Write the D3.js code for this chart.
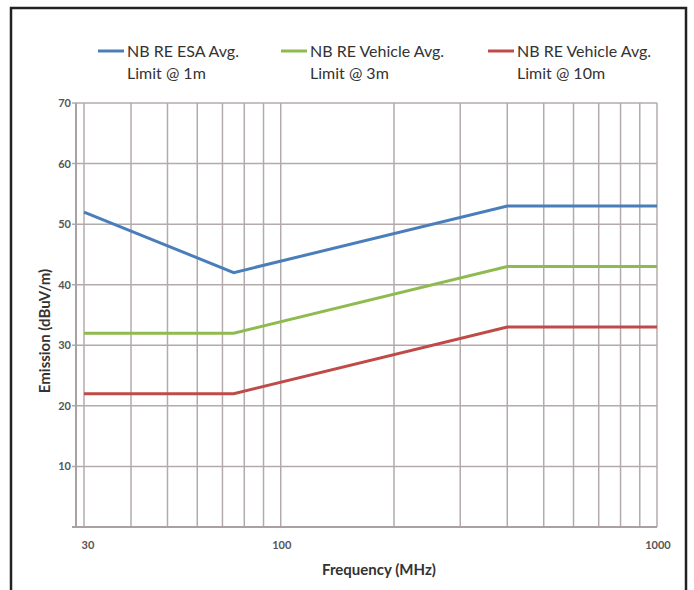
<!DOCTYPE html>
<html>
<head>
<meta charset="utf-8">
<script src="https://cdn.jsdelivr.net/npm/d3@7"></script>
<style>
  body { margin: 0; background: #fff; }
  text { font-family: Lato, "Open Sans", sans-serif; }
</style>
</head>
<body>
<div id="chart"></div>
<script>
// frequency breakpoints (MHz)
var freqs = [30, 75, 400, 1000];
var esaLimit1m = [52, 42, 53, 53];
var vehLimit3m = [32, 32, 43, 43];
var vehLimit10m = [22, 22, 33, 33];

var seriesNames = [["NB RE ESA Avg.", "Limit @ 1m"],
                   ["NB RE Vehicle Avg.", "Limit @ 3m"],
                   ["NB RE Vehicle Avg.", "Limit @ 10m"]];
var seriesColors = ["#4a7ebb", "#8fba4f", "#be4b48"];

var yTicks = [10, 20, 30, 40, 50, 60, 70];
var xLabels = [30, 100, 1000];
var xGrid = [30, 40, 50, 60, 70, 80, 90, 100, 200, 300, 400, 500, 600, 700, 800, 900, 1000];

var width = 694, height = 590;
var plotLeft = 76, plotRight = 657, plotTop = 103, plotBottom = 527;

var svg = d3.select('#chart')
            .append('svg')
            .attr('width', width)
            .attr('height', height);

var xScale = d3.scaleLog()
               .domain([30, 1000])
               .range([84, plotRight]);

var yScale = d3.scaleLinear()
               .domain([0, 70])
               .range([plotBottom, plotTop]);

var gridColor = '#b3abab';

// horizontal grid + y ticks
svg.append('g')
   .selectAll('line')
   .data(yTicks)
   .enter().append('line')
   .attr('x1', plotLeft - 4)
   .attr('x2', plotRight)
   .attr('y1', function(d){ return yScale(d); })
   .attr('y2', function(d){ return yScale(d); })
   .attr('stroke', gridColor)
   .attr('stroke-width', 1.5);

// vertical grid
svg.append('g')
   .selectAll('line')
   .data(xGrid)
   .enter().append('line')
   .attr('x1', function(d){ return xScale(d); })
   .attr('x2', function(d){ return xScale(d); })
   .attr('y1', plotTop)
   .attr('y2', plotBottom)
   .attr('stroke', gridColor)
   .attr('stroke-width', 1.5);

// axis lines
svg.append('line')
   .attr('x1', plotLeft).attr('x2', plotLeft)
   .attr('y1', plotTop).attr('y2', plotBottom)
   .attr('stroke', '#a9a1a1').attr('stroke-width', 2);
svg.append('line')
   .attr('x1', plotLeft - 4).attr('x2', plotRight)
   .attr('y1', plotBottom).attr('y2', plotBottom)
   .attr('stroke', '#a9a1a1').attr('stroke-width', 2);

// y tick labels
svg.append('g')
   .selectAll('text')
   .data(yTicks)
   .enter().append('text')
   .attr('x', plotLeft - 5)
   .attr('y', function(d){ return yScale(d) + 4; })
   .attr('text-anchor', 'end')
   .attr('font-size', 11)
   .attr('font-weight', 'bold')
   .attr('fill', '#555')
   .text(function(d){ return d; });

// x tick labels
svg.append('g')
   .selectAll('text')
   .data(xLabels)
   .enter().append('text')
   .attr('x', function(d){ return xScale(d) + (d == 30 ? 4 : 1); })
   .attr('y', 549)
   .attr('text-anchor', 'middle')
   .attr('font-size', 11)
   .attr('font-weight', 'bold')
   .attr('fill', '#555')
   .text(function(d){ return d; });

// axis titles
svg.append('text')
   .attr('x', 379)
   .attr('y', 575)
   .attr('text-anchor', 'middle')
   .attr('font-size', 15)
   .attr('font-weight', 'bold')
   .attr('fill', '#333')
   .text('Frequency (MHz)');

svg.append('text')
   .attr('transform', 'translate(50,331) rotate(-90)')
   .attr('text-anchor', 'middle')
   .attr('font-size', 15)
   .attr('font-weight', 'bold')
   .attr('fill', '#333')
   .text('Emission (dBuV/m)');

// lines
var line = d3.line()
             .x(function(d){ return xScale(d[0]); })
             .y(function(d){ return yScale(d[1]); });

[esaLimit1m, vehLimit3m, vehLimit10m].forEach(function(vals, i){
  svg.append('path')
     .datum(d3.zip(freqs, vals))
     .attr('d', line)
     .attr('fill', 'none')
     .attr('stroke', seriesColors[i])
     .attr('stroke-width', 3);
});

// legend
var legendX = [98, 281, 488];
var legend = svg.append('g');
seriesNames.forEach(function(name, i){
  var g = legend.append('g').attr('transform', 'translate(' + legendX[i] + ',0)');
  g.append('line')
   .attr('x1', 0).attr('x2', 26)
   .attr('y1', 51).attr('y2', 51)
   .attr('stroke', seriesColors[i])
   .attr('stroke-width', 3);
  g.append('text')
   .attr('x', 29).attr('y', 56.5)
   .attr('font-size', 16)
   .attr('fill', '#333')
   .text(name[0]);
  g.append('text')
   .attr('x', 29).attr('y', 78.5)
   .attr('font-size', 16)
   .attr('fill', '#333')
   .text(name[1]);
});

// outer frame
svg.append('path')
   .attr('d', 'M11,600 L11,8 L686,8 L686,600')
   .attr('fill', 'none')
   .attr('stroke', '#222')
   .attr('stroke-width', 2.5);
</script>
</body>
</html>
